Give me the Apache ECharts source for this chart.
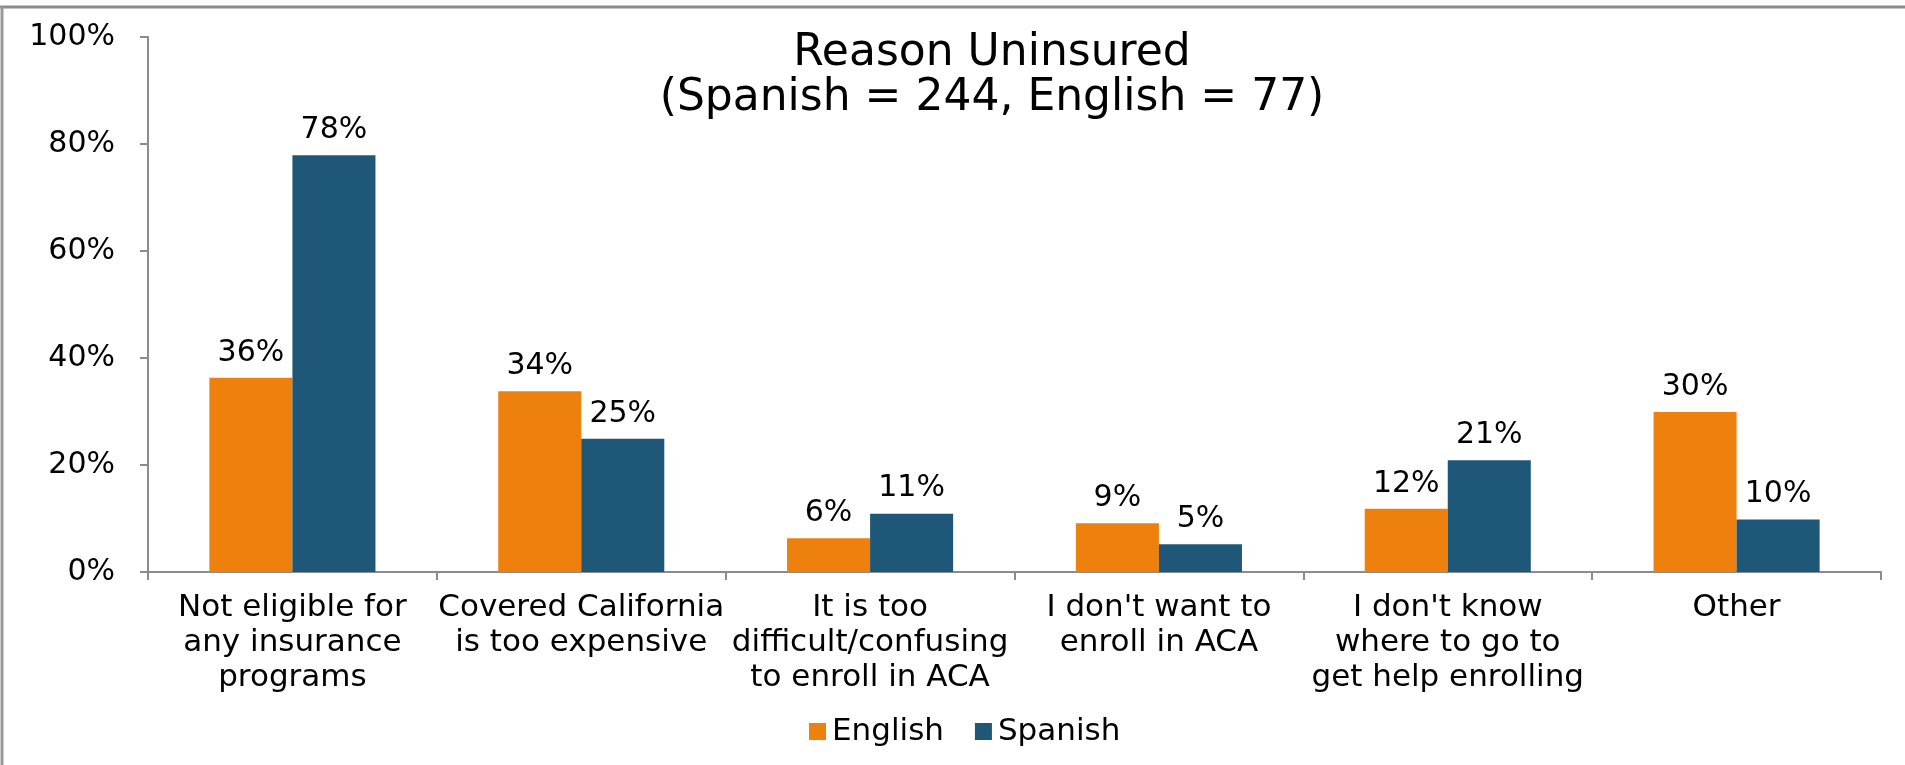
<!DOCTYPE html>
<html>
<head>
<meta charset="utf-8">
<script src="https://cdn.jsdelivr.net/npm/echarts@6/dist/echarts.min.js"></script>
<style>
html, body { margin: 0; padding: 0; background: #fff; }
#chart { width: 1905px; height: 765px; }
</style>
</head>
<body>
<div id="chart"></div>
<script>
const titleLines = ['Reason Uninsured', '(Spanish = 244, English = 77)'];
const categories = [
  'Not eligible for\nany insurance\nprograms',
  'Covered California\nis too expensive',
  'It is too\ndifficult/confusing\nto enroll in ACA',
  "I don't want to\nenroll in ACA",
  "I don't know\nwhere to go to\nget help enrolling",
  'Other'
];
const seriesNames = ['English', 'Spanish'];
const englishValues = [36.3, 33.8, 6.3, 9.1, 11.8, 29.9];
const spanishValues = [77.9, 24.9, 10.9, 5.2, 20.9, 9.8];
const yTicks = [0, 20, 40, 60, 80, 100];

const FONT = '"DejaVu Sans", Verdana, sans-serif';
const colors = ['#EE800D', '#1F5778'];

const chart = echarts.init(document.getElementById('chart'), null, { renderer: 'canvas' });

const labelCfg = {
  show: true,
  position: 'top',
  distance: 10,
  fontFamily: FONT,
  fontSize: 30,
  color: '#000',
  formatter: p => Math.round(p.value) + '%'
};

chart.setOption({
  animation: false,
  backgroundColor: '#fff',
  color: colors,
  title: {
    text: titleLines.join('\n'),
    left: 992,
    top: 31,
    textAlign: 'center',
    padding: 0,
    textStyle: {
      fontFamily: FONT,
      fontSize: 44,
      fontWeight: 'normal',
      color: '#000',
      lineHeight: 45
    }
  },
  legend: {
    data: seriesNames,
    left: 809,
    top: 716,
    padding: 0,
    icon: 'rect',
    itemWidth: 17,
    itemHeight: 17,
    itemGap: 31,
    textStyle: {
      fontFamily: FONT,
      fontSize: 31,
      color: '#000',
      padding: [0, 0, 0, 1]
    }
  },
  grid: {
    left: 148,
    right: 24,
    top: 37,
    bottom: 193,
    outerBoundsMode: 'none',
    containLabel: false
  },
  xAxis: {
    type: 'category',
    data: categories,
    axisLine: { lineStyle: { color: '#8c8c8c', width: 2 } },
    axisTick: { show: true, length: 8, alignWithLabel: false, lineStyle: { color: '#8c8c8c', width: 2 } },
    axisLabel: {
      interval: 0,
      margin: 18,
      fontFamily: FONT,
      fontSize: 31,
      lineHeight: 35,
      color: '#000'
    }
  },
  yAxis: {
    type: 'value',
    min: yTicks[0],
    max: yTicks[yTicks.length - 1],
    interval: yTicks[1] - yTicks[0],
    splitLine: { show: false },
    axisLine: { show: true, lineStyle: { color: '#8c8c8c', width: 2 } },
    axisTick: { show: true, length: 8, lineStyle: { color: '#8c8c8c', width: 2 } },
    axisLabel: {
      margin: 33,
      fontFamily: FONT,
      fontSize: 30,
      color: '#000',
      formatter: v => v + '%'
    }
  },
  series: [
    {
      name: seriesNames[0],
      type: 'bar',
      data: englishValues,
      barGap: '0%',
      barCategoryGap: '42.5%',
      itemStyle: { color: colors[0] },
      label: labelCfg
    },
    {
      name: seriesNames[1],
      type: 'bar',
      data: spanishValues,
      barGap: '0%',
      barCategoryGap: '42.5%',
      itemStyle: { color: colors[1] },
      label: labelCfg
    }
  ],
  graphic: [
    { type: 'line', shape: { x1: 0, y1: 7, x2: 1905, y2: 7 }, style: { stroke: '#8c8c8c', lineWidth: 3 }, silent: true },
    { type: 'line', shape: { x1: 2, y1: 7, x2: 2, y2: 765 }, style: { stroke: '#999999', lineWidth: 3 }, silent: true }
  ]
});
</script>
</body>
</html>
